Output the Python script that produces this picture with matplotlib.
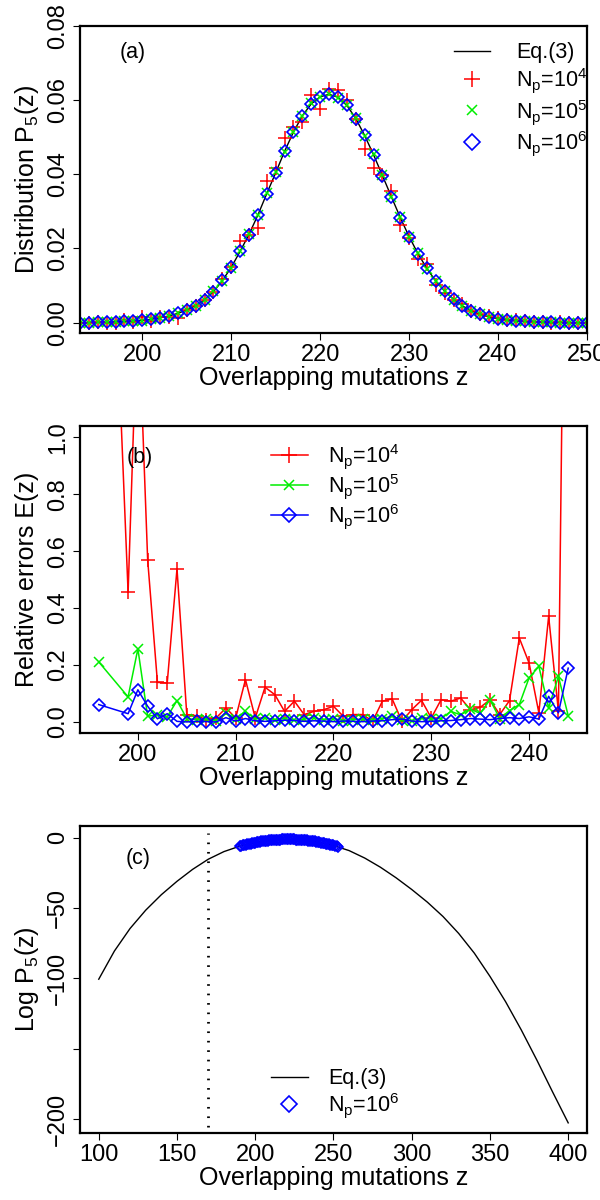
import matplotlib
matplotlib.use("Agg")
import matplotlib.pyplot as plt
from matplotlib.ticker import FormatStrFormatter

plt.rcParams['font.family'] = ['Liberation Sans', 'DejaVu Sans']
plt.rcParams['mathtext.default'] = 'regular'

# ---- (a) distribution P5(z), z = 193..250
z_a = list(range(193, 251))
eq_a = [0.0000, 0.0000, 0.0001, 0.0001, 0.0002, 0.0003, 0.0004, 0.0006, 0.0009, 0.0013,
        0.0018, 0.0025, 0.0034, 0.0046, 0.0061, 0.0083, 0.0113, 0.0149, 0.0192, 0.0238,
        0.0290, 0.0348, 0.0404, 0.0462, 0.0514, 0.0558, 0.0590, 0.0609, 0.0616, 0.0608,
        0.0586, 0.0551, 0.0505, 0.0453, 0.0397, 0.0340, 0.0284, 0.0232, 0.0186, 0.0146,
        0.0112, 0.0085, 0.0063, 0.0045, 0.0032, 0.0022, 0.0015, 0.0010, 0.0007, 0.0004,
        0.0003, 0.0002, 0.0001, 0.0001, 0.0000, 0.0000, 0.0000, 0.0000]
p4_a = [0.0000, 0.0000, 0.0001, 0.0000, 0.0000, 0.0007, 0.0002, 0.0015, 0.0004, 0.0015,
        0.0016, 0.0012, 0.0033, 0.0045, 0.0062, 0.0082, 0.0118, 0.0151, 0.0220, 0.0235,
        0.0255, 0.0382, 0.0418, 0.0497, 0.0528, 0.0540, 0.0615, 0.0575, 0.0630, 0.0627,
        0.0600, 0.0548, 0.0468, 0.0417, 0.0398, 0.0355, 0.0262, 0.0229, 0.0171, 0.0157,
        0.0102, 0.0081, 0.0060, 0.0049, 0.0031, 0.0024, 0.0019, 0.0012, 0.0007, 0.0006,
        0.0003, 0.0001, 0.0001, 0.0000, 0.0001, 0.0000, 0.0000, 0.0000]
p5_a = [0.0000, 0.0000, 0.0001, 0.0001, 0.0002, 0.0003, 0.0004, 0.0005, 0.0009, 0.0013,
        0.0018, 0.0027, 0.0034, 0.0046, 0.0060, 0.0084, 0.0112, 0.0148, 0.0194, 0.0238,
        0.0289, 0.0350, 0.0405, 0.0460, 0.0515, 0.0557, 0.0592, 0.0608, 0.0618, 0.0606,
        0.0586, 0.0553, 0.0503, 0.0454, 0.0398, 0.0338, 0.0285, 0.0231, 0.0187, 0.0145,
        0.0113, 0.0085, 0.0062, 0.0046, 0.0032, 0.0023, 0.0015, 0.0010, 0.0007, 0.0005,
        0.0003, 0.0002, 0.0001, 0.0001, 0.0000, 0.0000, 0.0000, 0.0000]
p6_a = [0.0000, 0.0000, 0.0001, 0.0001, 0.0002, 0.0003, 0.0004, 0.0007, 0.0010, 0.0013,
        0.0018, 0.0025, 0.0034, 0.0046, 0.0062, 0.0083, 0.0115, 0.0150, 0.0192, 0.0237,
        0.0291, 0.0348, 0.0403, 0.0463, 0.0513, 0.0558, 0.0589, 0.0609, 0.0617, 0.0608,
        0.0587, 0.0550, 0.0506, 0.0452, 0.0396, 0.0340, 0.0283, 0.0232, 0.0186, 0.0147,
        0.0112, 0.0085, 0.0063, 0.0045, 0.0032, 0.0022, 0.0015, 0.0010, 0.0007, 0.0004,
        0.0003, 0.0002, 0.0001, 0.0001, 0.0000, 0.0000, 0.0000, 0.0000]

# ---- (b) relative errors E(z)
z4_b = list(range(198, 245))
e4_b = [1.30, 0.455, 1.50, 0.57, 0.139, 0.137, 0.538, 0.026, 0.022, 0.008,
        0.014, 0.049, 0.014, 0.149, 0.014, 0.122, 0.096, 0.037, 0.073, 0.026,
        0.037, 0.043, 0.055, 0.020, 0.026, 0.026, 0.002, 0.073, 0.081, 0.002,
        0.043, 0.076, 0.014, 0.078, 0.073, 0.084, 0.043, 0.051, 0.078, 0.026,
        0.075, 0.295, 0.207, 0.032, 0.371, 0.037, 3.00]
z56_b = [196] + list(range(199, 245))
e5_b = [0.211, 0.088, 0.257, 0.020, 0.025, 0.018, 0.075, 0.012, 0.008, 0.010,
        0.005, 0.030, 0.012, 0.037, 0.010, 0.015, 0.008, 0.012, 0.006, 0.010,
        0.015, 0.008, 0.012, 0.005, 0.008, 0.010, 0.006, 0.012, 0.020, 0.008,
        0.004, 0.015, 0.010, 0.012, 0.037, 0.025, 0.045, 0.030, 0.078, 0.012,
        0.040, 0.061, 0.155, 0.195, 0.050, 0.160, 0.022]
e6_b = [0.061, 0.029, 0.113, 0.055, 0.011, 0.029, 0.002, 0.000, 0.002, 0.001,
        0.000, 0.015, 0.003, 0.012, 0.004, 0.002, 0.004, 0.006, 0.005, 0.002,
        0.004, 0.003, 0.001, 0.003, 0.002, 0.001, 0.003, 0.004, 0.008, 0.010,
        0.003, 0.001, 0.002, 0.004, 0.005, 0.008, 0.012, 0.010, 0.008, 0.012,
        0.015, 0.012, 0.018, 0.010, 0.090, 0.032, 0.189]

# ---- (c) log10 P5(z)
z_c = list(range(100, 401, 10))
logp_c = [-100.5, -80.5, -64.5, -51.5, -40.5, -31.0, -22.5, -15.3, -9.9, -6.1,
          -3.5, -1.8, -1.2, -1.6, -3.1, -5.6, -9.2, -14.5, -21.0, -28.5,
          -36.8, -45.8, -56.0, -68.0, -82.0, -98.5, -116.5, -136.5, -158.0, -180.5,
          -202.5]
z6_c = list(range(190, 254))
logp6_c = [-6.15, -5.84, -5.53, -5.24, -4.96, -4.68, -4.42, -4.17, -3.93, -3.70,
           -3.48, -3.27, -3.07, -2.88, -2.70, -2.53, -2.37, -2.22, -2.08, -1.95,
           -1.83, -1.72, -1.63, -1.54, -1.46, -1.40, -1.34, -1.29, -1.26, -1.23,
           -1.22, -1.21, -1.22, -1.23, -1.26, -1.29, -1.34, -1.40, -1.46, -1.54,
           -1.63, -1.72, -1.83, -1.95, -2.08, -2.22, -2.37, -2.53, -2.70, -2.88,
           -3.07, -3.27, -3.48, -3.70, -3.93, -4.17, -4.42, -4.68, -4.96, -5.24,
           -5.53, -5.84, -6.15, -6.47]
z_cut = 170

lab4 = 'N$_p$=10$^4$'
lab5 = 'N$_p$=10$^5$'
lab6 = 'N$_p$=10$^6$'
RED, GREEN, BLUE = '#ff0000', '#00ee00', '#0000ff'
TICK_FS, LABEL_FS, LEG_FS = 17, 18, 15.5


def style_axes(ax, ylabel):
    for s in ax.spines.values():
        s.set_linewidth(1.6)
    ax.tick_params(direction='out', length=5, width=0.8, labelsize=TICK_FS, pad=3)
    ax.tick_params(axis='y', labelrotation=90)
    for lab in ax.get_yticklabels():
        lab.set_va('center')
    ax.set_xlabel('Overlapping mutations z', fontsize=LABEL_FS)
    ax.xaxis.set_label_coords(0.5, -0.105)
    ax.xaxis.label.set_va('top')
    ax.set_ylabel(ylabel, fontsize=LABEL_FS)
    ax.yaxis.set_label_coords(-0.105, 0.5)
    ax.yaxis.label.set_va('center')


fig = plt.figure(figsize=(6, 12), dpi=100)

# (a)
ax = fig.add_axes([0.1333, 0.7222, 0.845, 0.2561])
ax.plot(z_a, eq_a, color='black', lw=1.0, label='Eq.(3)')
ax.plot(z_a, p4_a, ls='none', marker='+', ms=10, mew=1.1, color=RED, label=lab4)
ax.plot(z_a, p5_a, ls='none', marker='x', ms=6.5, mew=1.1, color=GREEN, label=lab5)
ax.plot(z_a, p6_a, ls='none', marker='D', ms=6.5, mew=1.2, mfc='none', mec=BLUE, label=lab6)
ax.set_xlim(193, 250)
ax.set_ylim(-0.0029, 0.08)
ax.set_xticks([200, 210, 220, 230, 240, 250])
ax.set_yticks([0.0, 0.02, 0.04, 0.06, 0.08])
ax.yaxis.set_major_formatter(FormatStrFormatter('%.2f'))
style_axes(ax, 'Distribution P$_5$(z)')
ax.text(0.103, 0.915, '(a)', transform=ax.transAxes, fontsize=LEG_FS, ha='center', va='center')
ax.legend(loc='upper left', bbox_to_anchor=(0.72, 0.975), frameon=False, fontsize=LEG_FS,
          handlelength=1.7, handletextpad=1.2, labelspacing=0.12, borderaxespad=0,
          numpoints=1, markerscale=1.2)

# (b)
ax = fig.add_axes([0.1333, 0.3889, 0.845, 0.2561])
ax.plot(z4_b, e4_b, color=RED, lw=1.1, marker='+', ms=10, mew=1.1, label=lab4)
ax.plot(z56_b, e5_b, color=GREEN, lw=1.1, marker='x', ms=6.5, mew=1.1, label=lab5)
ax.plot(z56_b, e6_b, color=BLUE, lw=1.1, marker='D', ms=6, mew=1.2, mfc='none', label=lab6)
ax.set_xlim(194.08, 245.92)
ax.set_ylim(-0.04, 1.04)
ax.set_xticks([200, 210, 220, 230, 240])
ax.set_yticks([0.0, 0.2, 0.4, 0.6, 0.8, 1.0])
ax.yaxis.set_major_formatter(FormatStrFormatter('%.1f'))
style_axes(ax, 'Relative errors E(z)')
ax.text(0.117, 0.897, '(b)', transform=ax.transAxes, fontsize=LEG_FS, ha='center', va='center')
ax.legend(loc='upper left', bbox_to_anchor=(0.36, 0.975), frameon=False, fontsize=LEG_FS,
          handlelength=1.7, handletextpad=0.95, labelspacing=0.05, borderaxespad=0,
          numpoints=1, markerscale=1.2)

# (c)
ax = fig.add_axes([0.1333, 0.0556, 0.845, 0.2561])
ax.plot(z_c, logp_c, color='black', lw=1.0, label='Eq.(3)')
ax.plot(z6_c, logp6_c, ls='none', marker='D', ms=5.5, mew=1.2, mfc='none', mec=BLUE, label=lab6)
ax.plot([z_cut, z_cut], [-205.2, 3.1], color='black', lw=2.0, ls=(0, (0.6, 2.8)))
ax.set_xlim(88, 412)
ax.set_ylim(-209.9, 8.3)
ax.set_xticks([100, 150, 200, 250, 300, 350, 400])
ax.set_yticks([0, -50, -100, -150, -200])
ax.set_yticklabels(['0', '\u221250', '\u2212100', '', '\u2212200'])
style_axes(ax, 'Log P$_5$(z)')
ax.text(0.115, 0.895, '(c)', transform=ax.transAxes, fontsize=LEG_FS, ha='center', va='center')
ax.legend(loc='upper left', bbox_to_anchor=(0.36, 0.24), frameon=False, fontsize=LEG_FS,
          handlelength=1.7, handletextpad=0.95, labelspacing=0.1, borderaxespad=0,
          numpoints=1, markerscale=1.4)

fig.savefig('out.png', dpi=100)
